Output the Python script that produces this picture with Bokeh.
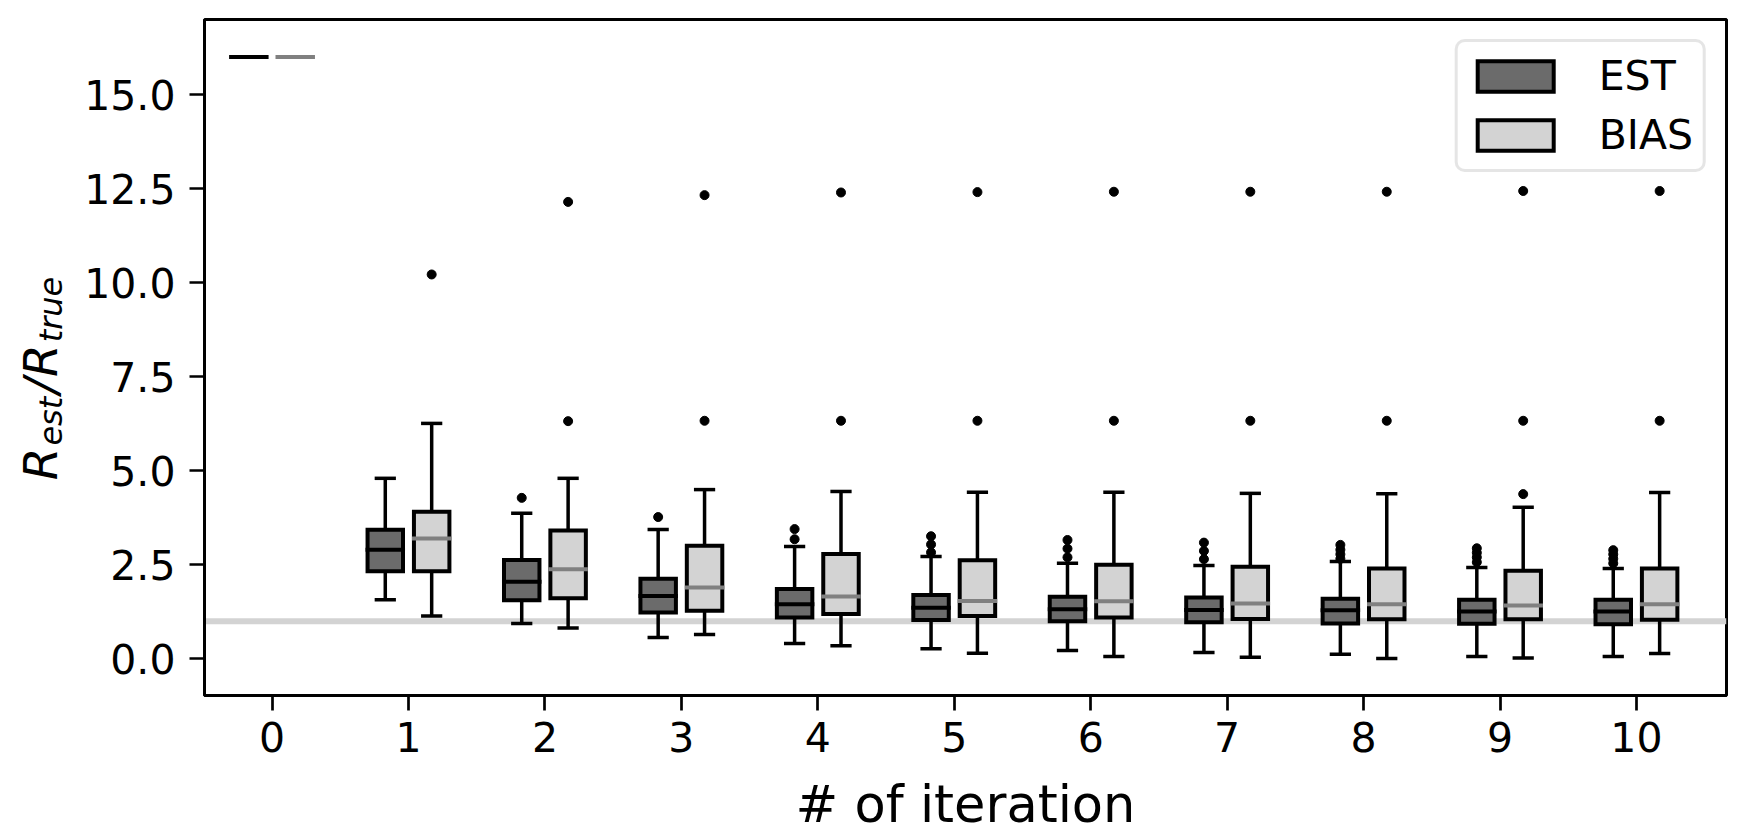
import numpy as np
from bokeh.plotting import figure
from bokeh.layouts import row
from bokeh.models import (Range1d, FixedTicker, Legend, LegendItem,
                          ColumnDataSource, PrintfTickFormatter, Span)
from bokeh.embed import file_html
from bokeh.resources import INLINE
from bokeh.core.properties import value

# ---------------- data ----------------
iterations = [0, 1, 2, 3, 4, 5, 6, 7, 8, 9, 10]

est_lo  = [16.0, 1.57, 0.94, 0.57, 0.41, 0.27, 0.22, 0.17, 0.12, 0.06, 0.06]
est_q1  = [16.0, 2.33, 1.56, 1.23, 1.10, 1.03, 1.00, 0.97, 0.94, 0.93, 0.92]
est_med = [16.0, 2.90, 2.05, 1.67, 1.45, 1.36, 1.32, 1.30, 1.29, 1.26, 1.26]
est_q3  = [16.0, 3.43, 2.63, 2.13, 1.86, 1.70, 1.65, 1.63, 1.60, 1.57, 1.57]
est_hi  = [16.0, 4.80, 3.87, 3.44, 2.99, 2.72, 2.54, 2.48, 2.59, 2.43, 2.40]

bias_lo  = [16.0, 1.14, 0.82, 0.65, 0.35, 0.15, 0.06, 0.04, 0.01, 0.02, 0.14]
bias_q1  = [16.0, 2.33, 1.61, 1.28, 1.19, 1.14, 1.10, 1.06, 1.05, 1.05, 1.04]
bias_med = [16.0, 3.20, 2.38, 1.90, 1.66, 1.54, 1.53, 1.47, 1.45, 1.42, 1.45]
bias_q3  = [16.0, 3.91, 3.41, 3.01, 2.79, 2.62, 2.50, 2.45, 2.40, 2.34, 2.40]
bias_hi  = [16.0, 6.26, 4.80, 4.50, 4.45, 4.43, 4.43, 4.40, 4.39, 4.03, 4.42]

est_out_iter = [2, 3, 4, 4, 5, 5, 5, 6, 6, 6, 7, 7, 7,
                8, 8, 8, 8, 9, 9, 9, 9, 10, 10, 10, 10]
est_out_val  = [4.28, 3.77, 3.18, 3.45, 2.83, 3.04, 3.26, 2.70, 2.93, 3.16,
                2.65, 2.87, 3.09, 2.66, 2.78, 2.90, 3.03,
                2.57, 2.70, 2.82, 2.94, 2.54, 2.66, 2.78, 2.89]

bias_out_iter = [1, 2, 2, 3, 3, 4, 4, 5, 5, 6, 6, 7, 7, 8, 8, 9, 9, 9, 10, 10]
bias_out_val  = [10.22, 6.32, 12.15, 6.33, 12.33, 6.33, 12.40, 6.33, 12.41,
                 6.33, 12.42, 6.33, 12.42, 6.33, 12.42, 4.38, 6.33, 12.44,
                 6.33, 12.44]

series_names = ["EST", "BIAS"]
ref_level = 1.0

x_ticks = iterations
y_ticks = [0.0, 2.5, 5.0, 7.5, 10.0, 12.5, 15.0]

# y-axis label pieces: R_est / R_true
ylab_main = ["R", "/", "R"]
ylab_sub = ["est", "true"]

# ---------------- styling ----------------
OFF = 0.17
W = 0.26
CAP = 0.13
FONT = "DejaVu Sans"

X0, X1 = -0.495, 10.66
Y0, Y1 = -0.975, 17.0
FW, FH = 1522, 676
FRAME_LEFT, FRAME_TOP = 204, 19
LAB_W = 75

p = figure(frame_width=FW, frame_height=FH,
           x_range=Range1d(X0, X1), y_range=Range1d(Y0, Y1),
           output_backend="svg", toolbar_location=None,
           min_border_left=FRAME_LEFT - LAB_W, min_border_right=13,
           min_border_top=FRAME_TOP, min_border_bottom=135)
p.align = "start"
p.background_fill_color = "white"
p.border_fill_color = "white"
p.outline_line_color = "black"
p.outline_line_width = 3
p.xgrid.visible = False
p.ygrid.visible = False

p.add_layout(Span(location=ref_level, dimension="width", line_color="#d3d3d3",
                  line_width=6, level="underlay"))


def draw_series(offset, lo, q1, med, q3, hi, fill, med_color, out_it, out_v):
    x = [i + offset for i in iterations]
    src = ColumnDataSource(dict(
        x=x, lo=lo, q1=q1, med=med, q3=q3, hi=hi,
        left=[v - W / 2 for v in x], right=[v + W / 2 for v in x],
        cl=[v - CAP / 2 for v in x], cr=[v + CAP / 2 for v in x]))
    p.segment(x0="x", y0="q3", x1="x", y1="hi", source=src,
              line_color="black", line_width=3.5)
    p.segment(x0="x", y0="lo", x1="x", y1="q1", source=src,
              line_color="black", line_width=3.5)
    p.segment(x0="cl", y0="hi", x1="cr", y1="hi", source=src,
              line_color="black", line_width=3.5, line_cap="square")
    p.segment(x0="cl", y0="lo", x1="cr", y1="lo", source=src,
              line_color="black", line_width=3.5, line_cap="square")
    box = p.quad(left="left", right="right", bottom="q1", top="q3", source=src,
                 fill_color=fill, line_color="black", line_width=4,
                 line_join="miter")
    p.segment(x0="left", y0="med", x1="right", y1="med", source=src,
              line_color=med_color, line_width=4, line_cap="square")
    p.scatter(x=[i + offset for i in out_it], y=out_v, size=9,
              fill_color="black", line_color="black")
    return box


est_box = draw_series(-OFF, est_lo, est_q1, est_med, est_q3, est_hi,
                      "#6b6b6b", "black", est_out_iter, est_out_val)
bias_box = draw_series(OFF, bias_lo, bias_q1, bias_med, bias_q3, bias_hi,
                       "#d3d3d3", "#808080", bias_out_iter, bias_out_val)

# ---------------- axes ----------------
for ax in (p.xaxis[0], p.yaxis[0]):
    ax.axis_line_color = "black"
    ax.axis_line_width = 3
    ax.major_tick_line_color = "black"
    ax.major_tick_line_width = 2.7
    ax.major_tick_out = 15
    ax.major_tick_in = 0
    ax.minor_tick_line_color = None
    ax.major_label_text_font = FONT
    ax.major_label_text_font_size = "41px"
    ax.major_label_text_color = "black"

p.xaxis.major_label_standoff = 11
p.yaxis.major_label_standoff = 14
p.xaxis.ticker = FixedTicker(ticks=x_ticks)
p.yaxis.ticker = FixedTicker(ticks=y_ticks)
p.yaxis.formatter = PrintfTickFormatter(format="%.1f")

p.xaxis.axis_label = "# of iteration"
p.xaxis.axis_label_text_font = FONT
p.xaxis.axis_label_text_font_size = "51px"
p.xaxis.axis_label_text_font_style = "normal"
p.xaxis.axis_label_text_color = "black"
p.xaxis.axis_label_standoff = 20

# ---------------- legend ----------------
legend = Legend(items=[LegendItem(label=series_names[0], renderers=[est_box]),
                       LegendItem(label=series_names[1], renderers=[bias_box])],
                location="top_right")
legend.margin = 20
legend.padding = 10
legend.spacing = 11
legend.glyph_width = 95
legend.glyph_height = 38
legend.label_standoff = 36
legend.label_text_font = FONT
legend.label_text_font_size = "41px"
legend.label_text_color = "black"
legend.border_line_color = "#cccccc"
legend.border_line_width = 3
legend.background_fill_color = "white"
legend.background_fill_alpha = 0.8
if "border_radius" in Legend.properties():
    legend.border_radius = 10
p.add_layout(legend)

# ---------------- y label panel (composite R_est/R_true) ----------------
LAB_H = 760
lab = figure(frame_width=LAB_W, frame_height=LAB_H, x_range=Range1d(0, LAB_W),
             y_range=Range1d(0, LAB_H), output_backend="svg",
             x_axis_type=None, y_axis_type=None, title_location=None,
             toolbar_location=None, min_border=0)
lab.align = "start"
lab.grid.visible = False
lab.outline_line_color = None
lab.background_fill_color = "white"
lab.border_fill_color = "white"

main_fs, sub_fs = 47, 32
K = 1.06
em_w = {"R": 0.695, "/": 0.337, "est": 1.528, "true": 2.052}
seq = [("R", main_fs), ("est", sub_fs), ("/", main_fs), ("R", main_fs), ("true", sub_fs)]
total = sum(fs * em_w[t] * K for t, fs in seq)
center_y = (FRAME_TOP + FRAME_TOP + FH) / 2
pos = center_y + total / 2
mx, my, sx, sy = [], [], [], []
for t, fs in seq:
    if fs == main_fs:
        mx.append(40); my.append(LAB_H - pos)
    else:
        sx.append(50); sy.append(LAB_H - pos)
    pos -= fs * em_w[t] * K

lab.text(x=mx, y=my, text=ylab_main, angle=np.pi / 2,
         text_font=value(FONT), text_font_size=f"{main_fs}px",
         text_font_style="italic", text_color="black",
         text_align="left", text_baseline="alphabetic")
lab.text(x=sx, y=sy, text=ylab_sub, angle=np.pi / 2,
         text_font=value(FONT), text_font_size=f"{sub_fs}px",
         text_font_style="italic", text_color="black",
         text_align="left", text_baseline="alphabetic")

layout = row(lab, p)
open("out.html", "w").write(file_html(layout, INLINE))
